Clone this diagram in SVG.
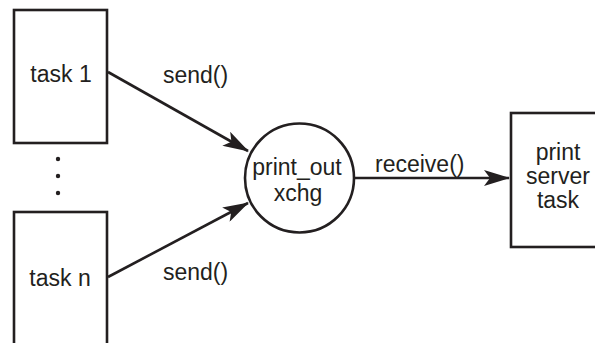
<svg xmlns="http://www.w3.org/2000/svg" width="595" height="343" viewBox="0 0 595 343">
<style>
.box{fill:#fff;stroke:#231f20;stroke-width:2.6}
.lbl{font-family:"Liberation Sans",Arial,sans-serif;font-size:23px;fill:#231f20}
.c{text-anchor:middle}
.edge{stroke:#231f20;stroke-width:2.6;fill:none}
</style>
<defs>
<marker id="ah" viewBox="0 0 26 16" refX="25" refY="8" markerWidth="26" markerHeight="16" markerUnits="userSpaceOnUse" orient="auto">
<path d="M0,0 L26,8 L0,16 L6,8 Z" fill="#231f20"/>
</marker>
</defs>
<rect width="595" height="343" fill="#fff"/>
<g id="connectors">
<line class="edge" x1="108" y1="72" x2="248" y2="151" marker-end="url(#ah)"/>
<line class="edge" x1="108" y1="277" x2="248" y2="203" marker-end="url(#ah)"/>
<line class="edge" x1="354" y1="178" x2="509" y2="178" marker-end="url(#ah)"/>
<text class="lbl" x="163" y="83">send()</text>
<text class="lbl" x="163" y="280">send()</text>
<text class="lbl" x="375" y="172">receive()</text>
</g>
<g id="task1">
<rect class="box" x="14" y="10" width="93" height="133"/>
<text class="lbl c" x="61" y="82">task 1</text>
</g>
<g id="dots" fill="#231f20">
<circle cx="58" cy="159" r="2.2"/>
<circle cx="58" cy="176" r="2.2"/>
<circle cx="58" cy="193" r="2.2"/>
</g>
<g id="taskn">
<rect class="box" x="14" y="212" width="93" height="140"/>
<text class="lbl c" x="60" y="286">task n</text>
</g>
<g id="xchg">
<circle class="box" cx="299.5" cy="178" r="54.5"/>
<text class="lbl c" x="297" y="175">print_out</text>
<text class="lbl c" x="298" y="201">xchg</text>
</g>
<g id="server">
<rect class="box" x="511" y="113" width="100" height="134"/>
<text class="lbl c" x="558" y="160">print</text>
<text class="lbl c" x="558" y="184">server</text>
<text class="lbl c" x="558" y="208">task</text>
</g>
</svg>
